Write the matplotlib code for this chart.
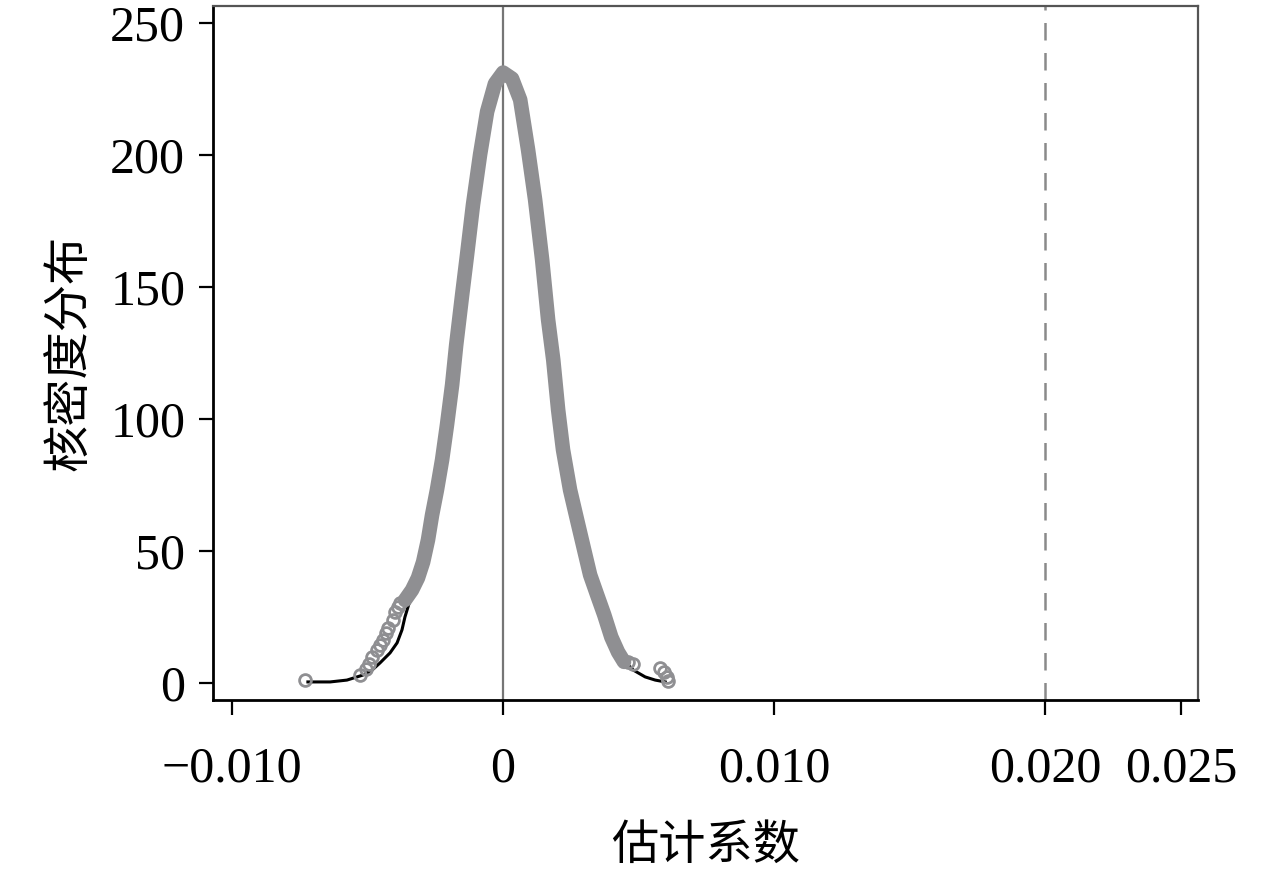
import matplotlib
matplotlib.use("Agg")
import matplotlib.pyplot as plt

# centre of the dense band of placebo estimates (coef, kernel density)
band_x = [-0.00362, -0.00336, -0.00314, -0.00295, -0.00277, -0.00262, -0.00244, -0.00225,
          -0.00207, -0.00188, -0.00173, -0.00151, -0.00133, -0.00111, -0.00085, -0.00059,
          -0.00030, 0.0, 0.00033, 0.00063, 0.00092, 0.00118, 0.00144, 0.00166,
          0.00185, 0.00203, 0.00221, 0.00247, 0.00273, 0.00299, 0.00321, 0.00347,
          0.00373, 0.00399, 0.00424, 0.00446]
band_y = [31.4, 35.2, 39.8, 45.8, 54.2, 63.6, 73.1, 84.5, 97.7, 112.9, 128.0, 147.0,
          162.1, 181.1, 200.0, 216.3, 226.9, 231.1, 228.8, 220.8, 201.9, 183.0, 160.2, 137.5,
          122.3, 103.4, 88.3, 73.1, 61.7, 50.4, 40.9, 33.3, 25.8, 17.4, 11.7, 8.0]

# isolated estimates in the tails
tail_x = [-0.00731, -0.00528, -0.00506, -0.00494, -0.00483, -0.00465, -0.00454, -0.00443,
          -0.00432, -0.00424, -0.00406, -0.00399, -0.00387, -0.00380,
          0.00461, 0.00480, 0.00579, 0.00594, 0.00605, 0.00609]
tail_y = [1.1, 3.0, 5.3, 7.2, 9.8, 12.5, 14.4, 16.3, 18.9, 20.8, 23.9, 26.9, 28.8, 30.3,
          8.0, 7.2, 5.7, 4.2, 2.3, 0.8]

# kernel density line visible in the tails
kde_left_x = [-0.00720, -0.00638, -0.00576, -0.00517, -0.00483, -0.00454, -0.00417,
              -0.00391, -0.00373, -0.00362, -0.00343]
kde_left_y = [0.4, 0.4, 1.1, 3.0, 4.9, 7.6, 11.4, 15.2, 20.1, 25.0, 31.4]
kde_right_x = [0.00424, 0.00450, 0.00480, 0.00524, 0.00561, 0.00598]
kde_right_y = [10.6, 8.0, 4.9, 2.3, 1.1, 0.4]

true_coef = 0.020
xticks = [-0.010, 0.0, 0.010, 0.020, 0.025]
xticklabels = ["\u22120.010", "0", "0.010", "0.020", "0.025"]
yticks = [0, 50, 100, 150, 200, 250]

gray = "#8f8f92"

fig = plt.figure(figsize=(12.8, 8.77), dpi=100)
ax = fig.add_axes([213 / 1280, 1 - 700 / 877, 985 / 1280, 694 / 877])

ax.axvline(0, color="#767676", lw=1.6, zorder=1)
ax.axvline(true_coef, color="#8a8a8a", lw=1.8, ls=(0, (7, 5)), zorder=1)

ax.plot(kde_left_x, kde_left_y, color="black", lw=2.2, zorder=2)
ax.plot(kde_right_x, kde_right_y, color="black", lw=2.2, zorder=2)
ax.plot(band_x, band_y, color=gray, lw=10.5, solid_capstyle="round",
        solid_joinstyle="round", zorder=3)
ax.plot(tail_x, tail_y, ls="none", marker="o", ms=8.5, mfc="none", mec=gray,
        mew=2.0, zorder=4)

ax.set_xlim(-0.0107, 0.02563)
ax.set_ylim(-6.44, 256.3)

ax.set_xticks(xticks)
ax.set_xticklabels(xticklabels)
ax.set_yticks(yticks)

serif = ["Liberation Serif", "DejaVu Serif"]
for lab in ax.get_xticklabels() + ax.get_yticklabels():
    lab.set_family(serif)
    lab.set_fontsize(36)

ax.tick_params(axis="x", direction="out", length=11, width=1.6, pad=22, colors="black")
ax.tick_params(axis="y", direction="out", length=10, width=1.6, pad=10, colors="black")

for side in ["left", "bottom"]:
    ax.spines[side].set_color("black")
    ax.spines[side].set_linewidth(2.0)
for side in ["top", "right"]:
    ax.spines[side].set_color("#555555")
    ax.spines[side].set_linewidth(1.6)

cjk = ["Noto Sans CJK SC", "DejaVu Sans"]
ax.set_xlabel("估计系数", family=cjk, fontsize=34)
ax.set_ylabel("核密度分布", family=cjk, fontsize=34)
ax.xaxis.set_label_coords(0.5, -0.175)
ax.yaxis.set_label_coords(-0.12, 0.5)

fig.savefig("out.png", dpi=100)
